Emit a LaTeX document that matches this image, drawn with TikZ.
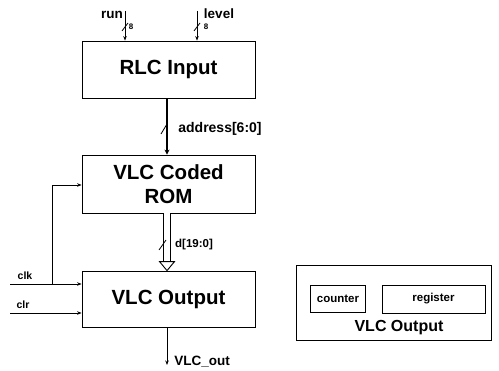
\documentclass[tikz,border=0pt]{standalone}
\usepackage{fontspec}
\setmainfont{Liberation Sans}
\usetikzlibrary{arrows.meta,calc}
\begin{document}
\begin{tikzpicture}[x=1pt,y=-1pt,
  line width=0.8pt,
  arr/.style={-{Stealth[length=4.5pt,width=3.5pt]}},
  blockbox/.style={draw, minimum width=173pt, inner sep=0pt, align=center,
    font=\bfseries\fontsize{20.5}{24.5}\selectfont},
  lbl/.style={inner sep=0pt, font=\bfseries\fontsize{#1}{#1}\selectfont},
  lbl/.default=13,
  subbox/.style={draw, inner sep=0pt, font=\bfseries\fontsize{11.5}{11.5}\selectfont}]
\useasboundingbox (0,0) rectangle (499,371);

% main blocks
\node[blockbox, minimum height=57pt] (rlc) at (168.5,69.5) {RLC Input};
\node[blockbox, minimum height=58pt] (rom) at (168.5,184) {VLC Coded\\ROM};
\node[blockbox, minimum height=56pt] (out) at (168.5,299) {VLC Output};

% inputs run / level
\coordinate (runtop) at (125,11);
\coordinate (levtop) at (197,11);
\draw[arr] (runtop) -- (runtop |- rlc.north);
\draw[arr] (levtop) -- (levtop |- rlc.north);
\node[lbl=13.5] (runl) at (112,15) {run};
\node[lbl=13.5] (levl) at (219,14) {level};
\node[lbl=8] (run8) at (131,27) {8};
\node[lbl=8] (lev8) at (206,27) {8};
\draw (122,31) -- (128,23);
\draw (194,31) -- (200,23);

% address bus
\coordinate (adtop) at (167,0 |- rlc.south);
\draw[line width=2.4pt, -{Stealth[length=5pt,width=5pt]}] (adtop) -- (adtop |- rom.north);
\node[lbl=14] (addl) at (220,129) {address[6:0]};
\draw (161,134) -- (167,124);

% data bus (hollow)
\coordinate (dtop) at (167,0 |- rom.south);
\coordinate (dend) at (167,0 |- out.north);
\draw[double distance=5.5pt, line width=0.9pt] (dtop) -- ($(dend)+(0,-9)$);
\draw[line width=0.9pt, fill=white] ($(dend)+(-7.5,-9)$) -- ($(dend)+(7.5,-9)$) -- (dend) -- cycle;
\node[lbl=11.5] (dl) at (194,245) {d[19:0]};
\draw (159,250) -- (166,240);

% clk / clr
\coordinate (clkin) at (10,284);
\coordinate (clrin) at (10,313);
\coordinate (br) at (52,284);
\draw[arr] (clkin) -- (clkin -| out.west);
\draw[arr] (br) |- ($(rom.west)+(0,1)$);
\draw[arr] (clrin) -- (clrin -| out.west);
\node[lbl=10.5] (clkl) at (25,276) {clk};
\node[lbl=10.5] (clrl) at (23,305) {clr};

% output
\coordinate (vout) at (167,365);
\draw[arr] (out.south -| vout) -- (vout);
\node[lbl=13.5] (voutl) at (202,362) {VLC\_out};

% right legend box
\node[draw, minimum width=195pt, minimum height=75pt, inner sep=0pt] (legend) at (393.5,302.5) {};
\node[subbox, minimum width=55pt, minimum height=27pt] (cnt) at (338,298.5) {counter};
\node[subbox, minimum width=103pt, minimum height=28pt] (reg) at (433.5,299) {register};
\node[lbl=16] (legl) at (399,328) {VLC Output};
\end{tikzpicture}
\end{document}
